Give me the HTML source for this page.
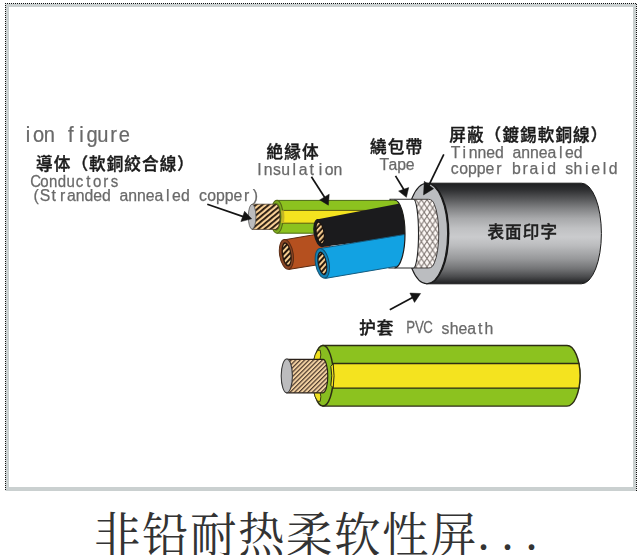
<!DOCTYPE html>
<html lang="zh">
<head>
<meta charset="utf-8">
<title>非铅耐热柔软性屏蔽电缆</title>
<style>
html,body{margin:0;padding:0;background:#fff;}
body{width:643px;height:555px;overflow:hidden;position:relative;}
#fig{position:absolute;left:0;top:0;width:643px;height:555px;display:block;}
.lat{font-family:"Liberation Sans","Noto Sans CJK JP",sans-serif;fill:#696969;stroke:#696969;stroke-width:0.25px;}
.cjk{font-family:"Liberation Sans","Noto Sans CJK JP","Noto Sans CJK SC",sans-serif;font-weight:500;fill:#1a1a1a;stroke:#1a1a1a;stroke-width:0.4px;}
#cap{position:absolute;left:0;top:504px;width:643px;height:64px;white-space:nowrap;
 font-family:"Liberation Serif","Noto Serif CJK SC",serif;font-size:48px;line-height:64px;color:#333;font-weight:400;}
#cap span{position:absolute;top:0;display:block;}
#cap .c{left:92.5px;letter-spacing:1.485px;transform-origin:0 0;transform:scaleX(0.97);margin-left:1.4px;}
#cap .d{left:477.4px;top:-2.5px;letter-spacing:12.1px;}
</style>
</head>
<body>
<svg id="fig" width="643" height="555" viewBox="0 0 643 555">
<defs>
  <pattern id="strand" width="8" height="4" patternUnits="userSpaceOnUse" patternTransform="rotate(-39.5)">
    <rect width="8" height="4" fill="#f8d097"/>
    <rect y="0" width="8" height="1.85" fill="#24170d"/>
  </pattern>
  <pattern id="strandS" width="8" height="4" patternUnits="userSpaceOnUse" patternTransform="rotate(-38)">
    <rect width="8" height="4" fill="#24160c"/>
    <rect y="0" width="8" height="2" fill="#f6cd90"/>
  </pattern>
  <pattern id="strand2" width="3.15" height="3.15" patternUnits="userSpaceOnUse" patternTransform="rotate(-45)">
    <rect width="3.15" height="3.15" fill="#f3d2a2"/>
    <rect y="0" width="3.15" height="1.2" fill="#4e3a2c"/>
  </pattern>
  <pattern id="braid" width="5.6" height="8.4" patternUnits="userSpaceOnUse" patternTransform="translate(418.6 203.8)">
    <rect width="5.6" height="8.4" fill="#fdf8f5"/>
    <path d="M-1,-1.5L6.6,9.9M6.6,-1.5L-1,9.9" stroke="#7a716d" stroke-width="1" fill="none"/>
  </pattern>
  <linearGradient id="sheath" x1="0" y1="0" x2="0" y2="1">
    <stop offset="0" stop-color="#1e1f21"/>
    <stop offset="0.07" stop-color="#303133"/>
    <stop offset="0.15" stop-color="#535456"/>
    <stop offset="0.25" stop-color="#818284"/>
    <stop offset="0.35" stop-color="#a8a9ab"/>
    <stop offset="0.45" stop-color="#c0c1c3"/>
    <stop offset="0.535" stop-color="#cacbcd"/>
    <stop offset="0.62" stop-color="#bbbcbe"/>
    <stop offset="0.75" stop-color="#98999b"/>
    <stop offset="0.85" stop-color="#737476"/>
    <stop offset="0.93" stop-color="#4a4b4d"/>
    <stop offset="1" stop-color="#1e1f21"/>
  </linearGradient>
  <clipPath id="wclip"><path d="M0,0H394.5V200A10.5,34 0 0 1 394.5,268V555H0Z"/></clipPath>
</defs>

<!-- frame -->
<g shape-rendering="crispEdges">
  <rect x="5" y="3" width="632" height="488" fill="#e6e8e8"/>
  <rect x="6" y="4" width="630" height="487" fill="#cad0d0"/>
  <rect x="9" y="7" width="624" height="480" fill="#fff"/>
  <line x1="5" y1="3.5" x2="636" y2="3.5" stroke="#111" stroke-width="1" stroke-dasharray="1 1"/>
  <line x1="5.5" y1="3" x2="5.5" y2="490" stroke="#111" stroke-width="1" stroke-dasharray="1 1"/>
  <line x1="636.5" y1="4" x2="636.5" y2="491" stroke="#111" stroke-width="1" stroke-dasharray="1 1"/>
</g>

<!-- upper cable : sheath -->
<path d="M426,183.2H581.4A20,50.3 0 0 1 581.4,283.8H426Z" fill="url(#sheath)" stroke="#1a1a1a" stroke-width="1"/>
<ellipse cx="428" cy="233.5" rx="21.4" ry="50.3" fill="#131313"/>
<ellipse cx="426.8" cy="233.5" rx="20.8" ry="50.2" fill="#bbbdc0" stroke="#1c1c1c" stroke-width="1.1"/>
<!-- braid -->
<path d="M412,199.3H428.5Q432.6,199.3 434.4,204.5A9,34 0 0 1 434.4,262.8Q432.6,268 428.5,268H412Z" fill="url(#braid)" stroke="#33302f" stroke-width="0.9"/>
<!-- tape -->
<path d="M390,199.3H413.5A5,34.3 0 0 1 413.5,268H389Z" fill="#fff" stroke="#262626" stroke-width="1.1"/>

<!-- wires -->
<g clip-path="url(#wclip)">
  <!-- green/yellow -->
  <path d="M277,200.4H410V233.2H277Z" fill="#8cc21f" stroke="#4c6a12" stroke-width="1"/>
  <path d="M281,210.4H410V223.2H281Z" fill="#f4e31f" stroke="#5b5a10" stroke-width="1"/>
  <!-- brown -->
  <path d="M284.5,239.8L330,232L330,262.8L288.9,269.4Z" fill="#b5501f" stroke="#5a2a12" stroke-width="1"/>
  <!-- black -->
  <path d="M316.6,219.4L410,201.6V236L321,247Z" fill="#1b1b1d"/>
  <!-- blue -->
  <path d="M319.8,248.6L410,233.6V264L325.4,278.4Z" fill="#12a2e2" stroke="#145c80" stroke-width="1"/>
</g>
<path d="M394.5,200A10.5,34 0 0 1 394.5,268" fill="none" stroke="#1c1c1c" stroke-width="1.2"/>
<!-- green wire end -->
<ellipse cx="276.9" cy="216.8" rx="6.3" ry="16.4" fill="#7fb01e" stroke="#566a16" stroke-width="1.1"/>
<path d="M281,210.6A6,17 0 0 1 281,223H284A6,17 0 0 0 284,210.6Z" fill="#c4b626"/>
<ellipse cx="276.2" cy="216.8" rx="4.6" ry="13.6" fill="none" stroke="#4f5f18" stroke-width="0.8"/>
<path d="M252,204.2H276A4,12.6 0 0 1 276,229.4H252Z" fill="url(#strand)" stroke="#3a2a1a" stroke-width="0.7"/>
<ellipse cx="252.1" cy="216.7" rx="3.8" ry="12.5" fill="#bcbcbe" stroke="#555" stroke-width="0.8"/>
<!-- brown end -->
<g transform="translate(0 -0.6) rotate(-8.5 286.4 255)">
<ellipse cx="286.4" cy="255" rx="6.8" ry="15" fill="#8a4624" stroke="#5a2a12" stroke-width="1"/>
<ellipse cx="286.6" cy="255" rx="4.8" ry="12.2" fill="#2a190e"/>
<ellipse cx="286.7" cy="255" rx="3.5" ry="10.6" fill="url(#strandS)"/>
</g>
<!-- black end -->
<g transform="rotate(-9.5 320 233)">
<ellipse cx="319.8" cy="233" rx="6.2" ry="14.3" fill="#1b1b1d"/>
<ellipse cx="320.1" cy="233" rx="4.4" ry="11.8" fill="#1b1410"/>
<ellipse cx="320.2" cy="233" rx="3.3" ry="10.4" fill="url(#strandS)"/>
</g>
<!-- blue end -->
<g transform="rotate(-10 322.3 263.3)">
<ellipse cx="322.3" cy="263.3" rx="6.8" ry="15" fill="#1282b6" stroke="#14506e" stroke-width="1"/>
<ellipse cx="322.3" cy="263.3" rx="4.6" ry="12" fill="#1c1a18"/>
<ellipse cx="322.4" cy="263.3" rx="3.4" ry="10.5" fill="url(#strandS)"/>
</g>

<!-- lower wire -->
<path d="M323,345.5H567A13,30.3 0 0 1 567,406.1H323Z" fill="#8cc21f" stroke="#2c2c14" stroke-width="1.4"/>
<path d="M330,363.5H578.9A13,30.3 0 0 1 578.9,388.1H330Z" fill="#f4e31f" stroke="#2c2c14" stroke-width="1.3"/>
<ellipse cx="323" cy="375.8" rx="10.3" ry="30.3" fill="#88bd20" stroke="#2c2c14" stroke-width="1.5"/>
<path d="M333.2,363.9L330.8,366.3Q332.8,375.8 330.8,385.3L333.2,387.7A10.3,30.3 0 0 0 333.2,363.9Z" fill="#f4e31f" stroke="#2c2c14" stroke-width="1"/>
<path d="M317.6,350.4L320.2,350.2Q321.6,355 320,359.6H313.8Q314.6,354.4 317.6,350.4Z" fill="#f0e020" stroke="#2c2c14" stroke-width="0.9"/>
<path d="M317.6,401.2L320.2,401.4Q321.6,396.6 320,392H313.8Q314.6,397.2 317.6,401.2Z" fill="#f0e020" stroke="#2c2c14" stroke-width="0.9"/>
<path d="M286.8,359.4H323A4.8,16.7 0 0 1 323,392.8H286.8Z" fill="url(#strand2)" stroke="#2a2018" stroke-width="1.2"/>
<ellipse cx="286.8" cy="375.9" rx="5.6" ry="16.9" fill="#bcbcbe" stroke="#3a3a3a" stroke-width="1.1"/>

<!-- arrows -->
<g>
<path d="M207.3,204.3L244.64,217.1" stroke="#141414" stroke-width="1.7" fill="none"/><path d="M251.6,218.8L244.6,211.3L240.9,221.6Z" fill="#141414" stroke="#141414" stroke-width="0.5" stroke-linejoin="round"/>
<path d="M311.4,176.8L325.53,198.73" stroke="#141414" stroke-width="1.7" fill="none"/><path d="M328.4,205.2L329.2,194.2L319.7,199.9Z" fill="#141414" stroke="#141414" stroke-width="0.5" stroke-linejoin="round"/>
<path d="M395.5,175.9L404.69,191.06" stroke="#141414" stroke-width="1.7" fill="none"/><path d="M406.4,197.3L408.7,187.6L398.6,191.1Z" fill="#141414" stroke="#141414" stroke-width="0.5" stroke-linejoin="round"/>
<path d="M443.8,154.4L428.08,186.8" stroke="#141414" stroke-width="1.7" fill="none"/><path d="M423.5,194.9L424.3,181.3L433.6,188.7Z" fill="#141414" stroke="#141414" stroke-width="0.5" stroke-linejoin="round"/>
<path d="M389.8,309.7L413.96,296.81" stroke="#141414" stroke-width="1.7" fill="none"/><path d="M420.6,293.5L409.9,293.1L414.5,302.4Z" fill="#141414" stroke="#141414" stroke-width="0.5" stroke-linejoin="round"/>
</g>

<!-- labels -->
<g style="will-change:transform">
<text class="lat" text-anchor="middle" font-size="21.6" y="141.8" transform="scale(0.93 1)" x="30.11 41.6 53.1 64.59 76.09 87.58 99.08 110.57 122.06 133.56">ion figure</text>
<text class="cjk" text-anchor="middle" font-size="16.6" y="169.6" x="44.4 62.05 79.7 97.35 115 132.65 150.3 167.95 185.6">導体（軟銅絞合線）</text>
<text class="lat" text-anchor="middle" font-size="15.8" y="187.3" transform="scale(0.95 1)" x="37.47 46.72 55.96 65.2 74.44 83.68 92.93 102.17 111.41 120.65">Conductors</text>
<text class="lat" text-anchor="middle" font-size="15.8" y="201.3" x="36.2 44.97 53.74 62.51 71.28 80.05 88.82 97.59 106.36 115.13 123.9 132.67 141.44 150.21 158.98 167.75 176.52 185.29 194.06 202.83 211.6 220.37 229.14 237.91 246.68 255.45">(Stranded annealed copper)</text>
<text class="cjk" text-anchor="middle" font-size="16.6" y="158.2" x="274.9 292.6 310.3">絶縁体</text>
<text class="lat" text-anchor="middle" font-size="15.8" y="175.3" x="259.5 268.21 276.92 285.63 294.34 303.05 311.76 320.47 329.18 337.89">Insulation</text>
<text class="cjk" text-anchor="middle" font-size="16.6" y="152.6" x="378.3 396 413.7">繞包帶</text>
<text class="lat" text-anchor="middle" font-size="15.8" y="169.8" x="384.4 393 401.6 410.2">Tape</text>
<text class="cjk" text-anchor="middle" font-size="16.6" y="141" x="457.5 475.2 492.9 510.6 528.3 546 563.7 581.4 599.1">屏蔽（鍍錫軟銅線）</text>
<text class="lat" text-anchor="middle" font-size="15.8" y="157.8" x="455.6 464.36 473.12 481.88 490.64 499.4 508.16 516.92 525.68 534.44 543.2 551.96 560.72 569.48 578.24">Tinned annealed</text>
<text class="lat" text-anchor="middle" font-size="15.8" y="173.7" x="454.8 463.6 472.4 481.2 490 498.8 507.6 516.4 525.2 534 542.8 551.6 560.4 569.2 578 586.8 595.6 604.4 613.2">copper braid shield</text>
<text class="cjk" text-anchor="middle" font-size="16.6" y="238.2" style="fill:#202020;stroke:#202020" x="495.7 513.4 531.1 548.8">表面印字</text>
<text class="cjk" text-anchor="middle" font-size="16.6" y="334" x="367.5 385">护套</text>
<text class="lat" text-anchor="middle" font-size="15.8" y="333.5" transform="scale(0.84 1)" x="488.81 499.18 509.55">PVC</text>
<text class="lat" text-anchor="middle" font-size="15.8" y="333.5" x="445.44 454.15 462.86 471.57 480.28 488.99">sheath</text>
</g>
</svg>
<div id="cap"><span class="c">非铅耐热柔软性屏</span><span class="d">...</span></div>
</body>
</html>
